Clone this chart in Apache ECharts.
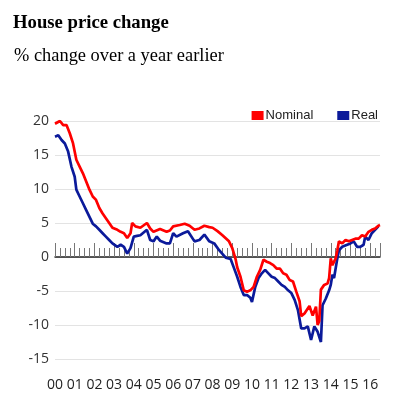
<!DOCTYPE html>
<html>
<head>
<meta charset="utf-8">
<script src="https://cdn.jsdelivr.net/npm/echarts@6/dist/echarts.min.js"></script>
<style>
html,body{margin:0;padding:0;background:#fff;}
#chart{width:404px;height:398px;}
</style>
</head>
<body>
<div id="chart"></div>
<script>
var titleText = "House price change";
var subtitleText = "% change over a year earlier";
var seriesNames = ["Nominal", "Real"];
var yearTicks = [2000,2001,2002,2003,2004,2005,2006,2007,2008,2009,2010,2011,2012,2013,2014,2015,2016];

var nominalDates = ["2000-01","2000-04","2000-06","2000-08","2000-10","2000-12","2001-02","2001-04","2001-06","2001-08","2001-10","2001-12","2002-02","2002-04","2002-06","2002-08","2002-10","2002-12","2003-03","2003-05","2003-07","2003-09","2003-11","2003-12","2004-02","2004-05","2004-09","2004-11","2005-01","2005-05","2005-09","2005-11","2006-01","2006-05","2006-08","2006-11","2007-02","2007-05","2007-08","2007-11","2008-01","2008-04","2008-07","2008-11","2009-01","2009-03","2009-04","2009-06","2009-08","2009-10","2009-12","2010-02","2010-04","2010-06","2010-08","2010-10","2010-12","2011-02","2011-04","2011-06","2011-08","2011-10","2011-12","2012-02","2012-04","2012-06","2012-07","2012-09","2012-12","2013-02","2013-04","2013-05","2013-06","2013-07","2013-09","2013-11","2013-12","2014-01","2014-02","2014-04","2014-05","2014-06","2014-08","2014-10","2014-12","2015-02","2015-04","2015-06","2015-08","2015-10","2015-12","2016-02","2016-04","2016-06","2016-07"];
var nominalValues = [19.6,20.0,19.4,19.4,18.2,16.7,14.3,13.3,12.3,11.1,9.9,8.9,8.4,7.2,6.4,5.7,5.0,4.3,4.0,3.7,3.5,2.8,3.5,5.0,4.5,4.3,5.0,4.2,3.7,4.1,3.7,3.9,4.5,4.7,4.9,4.6,4.0,4.2,4.6,4.4,4.3,3.8,3.2,2.3,1.3,-0.3,-1.5,-2.9,-4.9,-5.1,-4.9,-4.4,-2.9,-1.9,-0.4,-0.7,-0.9,-1.2,-1.7,-1.7,-2.4,-2.6,-3.4,-3.6,-5.1,-6.5,-8.7,-8.3,-7.2,-8.6,-7.3,-10.0,-9.4,-4.8,-4.1,-3.9,-3.1,-0.2,-1.2,-0.2,1.0,2.3,2.0,2.5,2.3,2.5,2.7,2.7,3.2,3.0,3.7,4.0,4.2,4.6,4.7];

var realDates = ["2000-01","2000-03","2000-05","2000-07","2000-09","2000-11","2001-01","2001-02","2001-04","2001-06","2001-08","2001-10","2001-12","2002-02","2002-04","2002-06","2002-08","2002-10","2002-12","2003-03","2003-05","2003-07","2003-09","2003-11","2004-01","2004-03","2004-05","2004-09","2004-11","2005-01","2005-03","2005-05","2005-09","2005-11","2006-01","2006-03","2006-07","2006-10","2006-11","2007-02","2007-05","2007-08","2007-11","2008-02","2008-05","2008-09","2008-12","2009-02","2009-04","2009-06","2009-08","2009-10","2009-12","2010-01","2010-03","2010-05","2010-07","2010-09","2010-11","2011-01","2011-03","2011-05","2011-07","2011-09","2011-11","2012-01","2012-03","2012-05","2012-07","2012-09","2012-11","2013-01","2013-03","2013-05","2013-07","2013-08","2013-10","2013-12","2014-01","2014-02","2014-03","2014-05","2014-06","2014-08","2014-11","2015-01","2015-03","2015-05","2015-07","2015-09","2015-10","2015-12","2016-02","2016-04","2016-06"];
var realValues = [17.7,17.9,17.2,16.7,15.5,13.3,11.8,9.9,8.9,7.9,6.9,5.9,4.9,4.5,4.0,3.5,3.0,2.5,2.0,1.5,1.8,1.5,0.5,1.3,3.0,3.1,3.2,4.0,2.5,2.3,3.0,2.4,2.0,2.0,3.5,3.0,3.5,3.8,3.7,2.3,2.5,3.3,2.3,2.0,1.0,-0.1,-0.3,-1.6,-2.9,-4.4,-5.6,-5.6,-6.0,-6.6,-4.4,-3.1,-2.4,-1.9,-2.4,-2.9,-3.1,-3.6,-4.1,-4.4,-4.9,-5.3,-6.3,-7.8,-10.5,-10.5,-10.2,-12.2,-10.2,-11.0,-12.5,-7.1,-6.1,-4.9,-4.1,-2.6,-3.1,-0.2,1.0,1.5,1.8,2.0,2.3,1.5,1.5,1.8,3.0,2.5,3.5,4.0,4.5];

function toYear(s){ var p = s.split('-'); return +p[0] + (+p[1] - 1) / 12; }
function pairs(dates, vals){ return dates.map(function(d, i){ return [toYear(d), vals[i]]; }); }

var xMin = yearTicks[0];
var xMax = 2016.5;

var chart = echarts.init(document.getElementById('chart'), null, {renderer: 'canvas'});
chart.setOption({
  animation: false,
  backgroundColor: '#ffffff',
  title: [
    {text: titleText, left: 8, top: 9, textStyle: {fontFamily: 'Liberation Serif', fontWeight: 'bold', fontSize: 18.7, color: '#000'}},
    {text: subtitleText, left: 9, top: 42, textStyle: {fontFamily: 'Liberation Serif', fontWeight: 'normal', fontSize: 18.4, color: '#000'}}
  ],
  legend: {
    data: seriesNames,
    right: 21, top: 104,
    icon: 'rect', itemWidth: 12, itemHeight: 9, itemGap: 24,
    textStyle: {fontFamily: 'Liberation Sans', fontSize: 13, color: '#222', padding: [0,0,0,-3]}
  },
  grid: {left: 55, right: 24, top: 121, bottom: 39, containLabel: false},
  xAxis: [
    {
      type: 'value', min: xMin, max: xMax, interval: 1, position: 'bottom',
      axisLine: {show: false, onZero: false},
      axisTick: {show: false},
      splitLine: {show: false},
      axisLabel: {
        margin: 19, fontFamily: 'Open Sans', fontSize: 14, color: '#222',
        showMaxLabel: false,
        formatter: function(v){ return (Math.abs(v - Math.round(v)) < 1e-6 && yearTicks.indexOf(Math.round(v)) >= 0) ? String(Math.round(v)).slice(2) : ''; }
      }
    },
    {
      type: 'value', min: xMin, max: xMax, interval: 1, position: 'top',
      axisLine: {show: true, onZero: true, onZeroAxisIndex: 0, lineStyle: {color: '#222', width: 1.5}},
      axisTick: {show: true, inside: false, length: 14, lineStyle: {color: '#777', width: 1}},
      minorTick: {show: true, splitNumber: 4, length: 9, lineStyle: {color: '#777', width: 1}},
      axisLabel: {show: false},
      splitLine: {show: false}
    }
  ],
  yAxis: {
    type: 'value', min: -15, max: 20, interval: 5,
    axisLine: {show: false}, axisTick: {show: false},
    axisLabel: {margin: 6, fontFamily: 'Open Sans', fontSize: 14, color: '#333'},
    splitLine: {show: true, lineStyle: {color: '#e3e3e3', width: 1}}
  },
  series: [
    {name: seriesNames[1], type: 'line', xAxisIndex: 0, data: pairs(realDates, realValues), showSymbol: false, lineStyle: {color: '#0b1a9a', width: 2.7}, itemStyle: {color: '#0b1a9a'}, z: 3},
    {name: seriesNames[0], type: 'line', xAxisIndex: 0, data: pairs(nominalDates, nominalValues), showSymbol: false, lineStyle: {color: '#ff0000', width: 2.7}, itemStyle: {color: '#ff0000'}, z: 4}
  ]
});
</script>
</body>
</html>
